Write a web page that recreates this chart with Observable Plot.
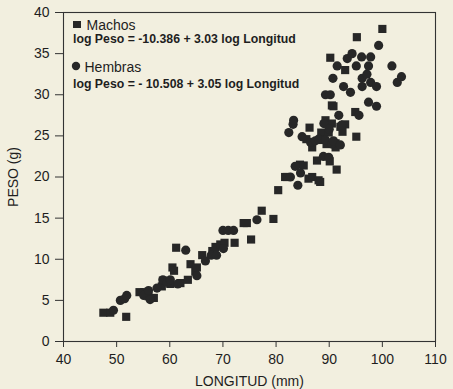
<!DOCTYPE html>
<html>
<head>
<meta charset="utf-8">
<script src="https://cdn.jsdelivr.net/npm/d3@7"></script>
<script src="https://cdn.jsdelivr.net/npm/@observablehq/plot@0.6"></script>
<style>
  html, body { margin: 0; padding: 0; background: #f2efdf; }
  #chart { position: relative; width: 453px; height: 389px; }
</style>
</head>
<body>
<div id="chart"></div>
<script>
// Machos (square markers): [LONGITUD mm, PESO g]
const machosLongitud = [47.5,48.8,51.8,54.3,55.2,56.0,57.0,58.5,58.7,60.1,60.5,60.8,61.2,62.0,63.4,63.9,64.8,65.1,66.1,68.0,68.6,69.5,70.3,72.2,73.9,74.5,75.3,77.3,79.5,80.4,81.7,82.1,84.5,85.2,85.7,86.1,86.3,86.8,86.8,87.7,88.0,88.3,88.5,88.7,89.3,89.5,89.9,90.1,90.2,90.5,90.5,90.8,91.2,91.2,91.4,92.1,92.5,93.0,93.0,94.9,95.1,95.2,100.0];
const machosPeso     = [3.5,3.5,3.0,6.0,6.0,5.5,5.3,6.7,7.4,7.0,9.0,8.6,11.4,7.1,7.5,9.4,8.5,9.0,10.5,11.0,11.5,11.8,12.0,12.0,14.4,14.4,12.4,15.9,14.9,18.4,20.0,20.0,21.5,21.4,24.6,19.8,26.0,23.6,20.0,22.0,19.6,19.4,25.4,24.5,26.9,24.0,25.4,21.9,34.5,28.7,26.5,28.6,24.1,23.6,20.9,26.1,25.5,26.4,33.0,27.9,24.9,37.0,38.0];

// Hembras (circle markers): [LONGITUD mm, PESO g]
const hembrasLongitud = [49.4,50.7,51.5,51.9,55.1,56.0,56.3,57.6,58.7,59.5,60.1,61.5,63.0,65.1,66.7,67.8,68.8,70.1,70.0,71.0,72.0,76.4,82.4,82.7,83.2,83.3,83.6,84.1,84.6,84.9,86.5,87.4,88.0,88.9,89.0,89.3,89.3,89.9,90.0,90.2,90.5,90.7,90.8,91.5,91.8,92.1,92.3,92.7,93.4,94.0,94.3,95.1,95.6,96.1,96.2,96.2,97.1,97.4,97.4,97.8,97.8,98.9,98.9,99.3,101.8,102.8,103.6];
const hembrasPeso     = [3.8,5.0,5.2,5.6,5.6,6.2,5.1,6.5,7.5,7.2,7.5,7.0,11.1,8.0,9.8,10.5,10.5,11.3,13.5,13.5,13.5,14.8,25.4,20.0,26.4,26.9,21.3,19.0,20.5,24.9,24.2,24.4,24.6,22.5,26.5,24.5,30.0,22.4,25.8,30.0,24.0,32.0,24.4,33.5,27.5,23.9,26.3,31.0,34.4,30.3,35.0,33.5,27.5,34.6,32.0,31.0,32.5,33.5,29.1,34.6,31.5,31.0,28.6,36.0,33.5,31.5,32.2];

const xTicks = [40,50,60,70,80,90,100,110];
const yTicks = [0,5,10,15,20,25,30,35,40];
const xLabel = "LONGITUD (mm)";
const yLabel = "PESO (g)";
const legendMachos = "Machos";
const eqMachos = "log Peso = -10.386 + 3.03 log Longitud";
const legendHembras = "Hembras";
const eqHembras = "log Peso = - 10.508 + 3.05 log Longitud";

const machos = machosLongitud.map((x, i) => ({x, y: machosPeso[i]}));
const hembras = hembrasLongitud.map((x, i) => ({x, y: hembrasPeso[i]}));

const ink = "#272727";
const font = "'Liberation Sans', Arial, sans-serif";

const plot = Plot.plot({
  width: 453,
  height: 389,
  marginLeft: 63,
  marginRight: 18,
  marginTop: 12,
  marginBottom: 48,
  style: {background: "#f2efdf", fontFamily: font, fontSize: "14px", color: "#1e1e1e"},
  x: {domain: [40, 110]},
  y: {domain: [0, 40]},
  marks: [
    Plot.frame({stroke: "#333", strokeWidth: 1.1}),
    Plot.axisX({ticks: xTicks, tickSize: 6, tickPadding: 7, label: xLabel, labelAnchor: "center", labelOffset: 44, labelArrow: "none", fontSize: 14, stroke: "#333"}),
    Plot.axisY({ticks: yTicks, tickSize: 8, tickPadding: 6, label: yLabel, labelAnchor: "center", labelOffset: 55, labelArrow: "none", fontSize: 14, stroke: "#333"}),
    Plot.dot(machos, {x: "x", y: "y", symbol: "square", r: 4.6, fill: ink, stroke: "none"}),
    Plot.dot(hembras, {x: "x", y: "y", symbol: "circle", r: 4.6, fill: ink, stroke: "none"}),
    Plot.text([legendMachos], {frameAnchor: "top-left", dx: 23, dy: 13, textAnchor: "start", lineAnchor: "middle", fontSize: 14, fill: "#1e1e1e"}),
    Plot.text([eqMachos], {frameAnchor: "top-left", dx: 9.5, dy: 27, textAnchor: "start", lineAnchor: "middle", fontSize: 12.3, fontWeight: "bold", fill: "#1e1e1e"}),
    Plot.text([legendHembras], {frameAnchor: "top-left", dx: 21, dy: 55, textAnchor: "start", lineAnchor: "middle", fontSize: 14, fill: "#1e1e1e"}),
    Plot.text([eqHembras], {frameAnchor: "top-left", dx: 9.5, dy: 72, textAnchor: "start", lineAnchor: "middle", fontSize: 12.3, fontWeight: "bold", fill: "#1e1e1e"})
  ]
});

// legend symbols
const svg = d3.select(plot);
svg.append("rect").attr("x", 63 + 10).attr("y", 12 + 9).attr("width", 8).attr("height", 7).attr("fill", ink);
svg.append("circle").attr("cx", 63 + 13).attr("cy", 12 + 54).attr("r", 4.2).attr("fill", ink);

document.getElementById("chart").appendChild(plot);
</script>
</body>
</html>
